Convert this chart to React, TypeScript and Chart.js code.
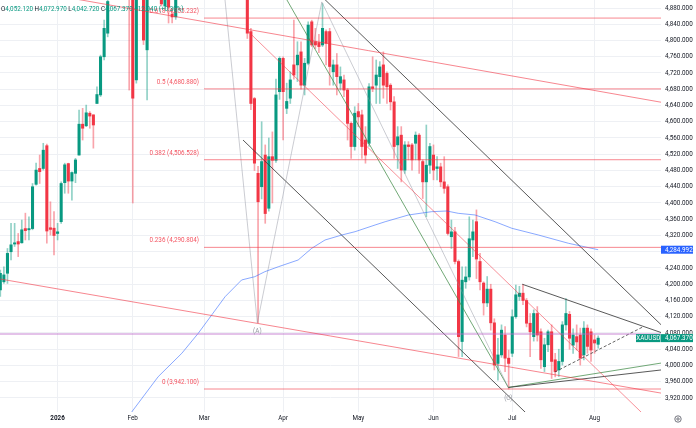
import { useEffect, useRef } from 'react';
import { Chart, registerables } from 'chart.js';

Chart.register(...registerables);

// daily bars, index 0 = mid Dec 2025, last bar = early Aug 2026
const opens = [
  4186, 4206, 4227, 4280, 4299, 4305, 4302, 4337, 4334, 4337, 4446, 4485, 4485, 4541, 4339, 4338, 4325, 4354, 4450, 4497,
  4454, 4473, 4518, 4594, 4590, 4621, 4617, 4645, 4666, 4760, 4818, 4905, 4975, 5080, 5170, 5320, 5150, 4920, 4703, 4960,
  5040, 4777, 4960, 5030, 4980, 5050, 4885, 4960, 4865, 4858, 4940, 4995, 5040, 5090, 5040, 5010, 5050, 5120, 5100, 5030,
  5060, 5090, 5130, 5070, 5020, 4990, 5010, 4960, 4940, 4925, 4822, 4657, 4473, 4440, 4518, 4387, 4514, 4505, 4674, 4756,
  4633, 4658, 4740, 4740, 4772, 4690, 4744, 4846, 4797, 4795, 4789, 4822, 4822, 4723, 4740, 4695, 4703, 4678, 4596, 4539,
  4625, 4617, 4555, 4547, 4686, 4690, 4711, 4740, 4719, 4690, 4649, 4543, 4567, 4481, 4543, 4543, 4547, 4567, 4502, 4452,
  4493, 4518, 4485, 4489, 4452, 4440, 4317, 4329, 4256, 4059, 4206, 4218, 4309, 4354, 4256, 4203, 4154, 4188, 4105, 4005,
  4026, 4075, 4018, 4030, 4120, 4170, 4178, 4160, 4104, 4071, 4128, 4083, 3997, 4051, 4083, 4014, 3989, 4010, 4100, 4126,
  4050, 4071, 4075, 4026, 4092, 4083, 4063, 4052.12,
];
const highs = [
  4235, 4243, 4288, 4350, 4350, 4325, 4358, 4375, 4366, 4448, 4498, 4518, 4547, 4545, 4403, 4379, 4350, 4452, 4498, 4498,
  4477, 4510, 4629, 4633, 4641, 4625, 4617, 4686, 4764, 4850, 4910, 4985, 5090, 5190, 5380, 5450, 5200, 4950, 5000, 5080,
  5060, 4990, 5060, 5090, 5070, 5060, 4990, 4975, 4878, 4960, 5010, 5060, 5110, 5120, 5080, 5060, 5140, 5180, 5130, 5070,
  5110, 5150, 5160, 5090, 5050, 5040, 5030, 4990, 4960, 4940, 4830, 4660, 4490, 4600, 4543, 4560, 4575, 4705, 4760, 4760,
  4695, 4723, 4850, 4797, 4797, 4756, 4846, 4850, 4830, 4815, 4891, 4826, 4830, 4752, 4768, 4735, 4715, 4682, 4600, 4637,
  4645, 4629, 4588, 4694, 4760, 4752, 4748, 4772, 4723, 4694, 4662, 4588, 4588, 4551, 4551, 4547, 4575, 4571, 4506, 4592,
  4547, 4543, 4514, 4498, 4514, 4445, 4358, 4340, 4260, 4243, 4243, 4366, 4358, 4383, 4276, 4206, 4219, 4200, 4115, 4067,
  4100, 4096, 4038, 4137, 4198, 4195, 4200, 4165, 4128, 4137, 4145, 4090, 4067, 4087, 4100, 4030, 4040, 4108, 4165, 4133,
  4090, 4100, 4092, 4108, 4100, 4090, 4075, 4072.97,
];
const lows = [
  4170, 4202, 4202, 4260, 4293, 4268, 4301, 4309, 4309, 4334, 4444, 4448, 4481, 4301, 4321, 4272, 4309, 4350, 4424, 4424,
  4407, 4450, 4518, 4555, 4588, 4584, 4535, 4645, 4662, 4752, 4809, 4902, 4960, 5050, 5150, 5100, 4678, 4400, 4695, 4930,
  4790, 4654, 4940, 4950, 4960, 4885, 4878, 4843, 4843, 4852, 4925, 4970, 5010, 5020, 4990, 4960, 5030, 5080, 5020, 4980,
  5040, 5070, 5050, 5000, 4960, 4950, 4940, 4920, 4915, 4805, 4630, 4480, 4105, 4410, 4350, 4380, 4400, 4500, 4655, 4555,
  4620, 4645, 4705, 4699, 4680, 4666, 4740, 4785, 4780, 4770, 4785, 4740, 4690, 4690, 4666, 4678, 4662, 4555, 4510, 4530,
  4588, 4510, 4498, 4539, 4674, 4645, 4645, 4658, 4645, 4629, 4510, 4485, 4452, 4473, 4506, 4481, 4506, 4473, 4411, 4366,
  4473, 4457, 4457, 4440, 4424, 4321, 4288, 4250, 4022, 4022, 4190, 4210, 4268, 4214, 4186, 4124, 4145, 4087, 3989, 3964,
  4020, 3985, 3942.1, 4022, 4116, 4160, 4150, 4095, 4022, 4060, 4060, 3993, 3985, 4034, 3968, 3972, 3973, 4001, 4087, 4040,
  4030, 4038, 4001, 4014, 4030, 4010, 4030, 4042.72,
];
const closes = [
  4227, 4223, 4276, 4297, 4302, 4299, 4334, 4332, 4337, 4440, 4481, 4477, 4530, 4331, 4335, 4320, 4329, 4448, 4494, 4454,
  4475, 4506, 4594, 4584, 4622, 4614, 4592, 4667, 4760, 4830, 4896, 4975, 5080, 5170, 5320, 5150, 4920, 4658, 4960, 5040,
  4801, 4960, 5030, 4980, 5050, 4890, 4960, 4882, 4858, 4940, 4995, 5040, 5090, 5040, 5010, 5050, 5120, 5100, 5030, 5060,
  5090, 5130, 5070, 5020, 4990, 5010, 4960, 4940, 4925, 4818, 4645, 4498, 4403, 4502, 4374, 4514, 4505, 4666, 4756, 4674,
  4650, 4703, 4715, 4764, 4690, 4744, 4838, 4789, 4789, 4785, 4830, 4793, 4736, 4740, 4711, 4711, 4678, 4596, 4539, 4621,
  4612, 4539, 4518, 4686, 4682, 4715, 4735, 4690, 4686, 4649, 4539, 4563, 4481, 4543, 4539, 4506, 4567, 4506, 4452, 4493,
  4539, 4481, 4489, 4452, 4436, 4325, 4329, 4256, 4071, 4210, 4218, 4312, 4329, 4262, 4206, 4154, 4188, 4105, 4001, 4026,
  4087, 4018, 4005, 4120, 4174, 4178, 4160, 4104, 4083, 4128, 4075, 4014, 4051, 4083, 4010, 3985, 4010, 4100, 4128, 4067,
  4075, 4058, 4018, 4092, 4047, 4038, 4055.33, 4067.37,
];

// moving average, read at [bar index, price]
const maIdx = [36.7, 44.1, 50.7, 55.3, 59.05, 62.8, 67.4, 71.1, 73.9, 77.7, 83.2, 87, 90.7, 95.4, 99.1, 104.7, 107.5, 114, 120.5, 124.7, 127.9, 132.6, 138.2, 142.9, 150.3, 158.7, 167];
const maVals = [3885.5, 3972.4, 4030, 4079.3, 4124.3, 4169.4, 4210.5, 4218.6, 4230.9, 4243.2, 4259.7, 4288.5, 4308.9, 4321.2, 4329.4, 4345.9, 4353.9, 4370.5, 4378.6, 4380.3, 4374.6, 4370.5, 4353.9, 4337.7, 4321.2, 4300.8, 4284.992];

// fibonacci retracement
const fibLevels = [0, 0.236, 0.382, 0.5, 0.618];
const fibPrices = [3942.1, 4290.804, 4506.528, 4680.88, 4855.232];
const fibFrom = 56.9;

// drawings: [bar index, price] anchors
const upperFan = [[-0.1, 4935], [184.6, 4648]];
const lowerFan = [[-0.1, 4213], [184.6, 3932]];
const steepRed = [[68.8, 4826], [184.3, 3840]];
const channelTop = [[89.6, 4910], [184.6, 4100]];
const channelBottom = [[67.8, 4555], [147.1, 3881]];
const greenRay = [[79.4, 4910], [141.9, 3946]];
const zigzag = [[62.65, 4910], [71.8, 4105], [89.8, 4895], [141.9, 3946]];
const triTop = [[145.8, 4200], [184.6, 4081]];
const triBase = [[141.9, 3946], [184.6, 3989]];
const triGreen = [[141.9, 3946], [184.6, 4006]];
const dashedRay = [[154.9, 3984], [179.5, 4095]];
const purpleLevel = [[-0.1, 4077.5], [184.6, 4077.5]];

const monthIdx = [16, 37, 57, 79, 100, 121, 143, 166];
const monthLabels = ['2026', 'Feb', 'Mar', 'Apr', 'May', 'Jun', 'Jul', 'Aug'];
const yTicks = [3920, 3960, 4000, 4040, 4080, 4120, 4160, 4200, 4240, 4280, 4320, 4360, 4400, 4440, 4480, 4520, 4560, 4600, 4640, 4680, 4720, 4760, 4800, 4840, 4880];

const UP = '#089981';
const DOWN = '#f23645';
const FIB = 'rgba(242,54,69,0.6)';
const FONT = 'Roboto';
const fmt = (v: number) => v.toLocaleString('en-US', { minimumFractionDigits: 3, maximumFractionDigits: 3 });

const seg = (pts: number[][], color: string, extra: any = {}) => ({
  type: 'line' as const,
  data: pts.map(([x, y]) => ({ x, y })),
  borderColor: color,
  borderWidth: 1,
  pointRadius: 0,
  clip: 0,
  order: 1,
  ...extra,
});

const overlay = {
  id: 'overlay',
  afterDatasetsDraw(chart: any) {
    const { ctx, scales } = chart;
    const { x, y } = scales;
    ctx.save();
    ctx.font = `6.3px ${FONT}`;
    ctx.textBaseline = 'middle';
    ctx.textAlign = 'right';
    ctx.fillStyle = 'rgba(242,54,69,0.85)';
    fibLevels.forEach((lv, i) => {
      ctx.fillText(`${lv} (${fmt(fibPrices[i])})`, x.getPixelForValue(fibFrom) - 5, y.getPixelForValue(fibPrices[i]) - 6.5);
    });
    ctx.textAlign = 'center';
    ctx.fillStyle = '#9598a1';
    ctx.fillText('(A)', x.getPixelForValue(zigzag[1][0]), y.getPixelForValue(zigzag[1][1]) + 9);
    ctx.fillText('(C)', x.getPixelForValue(zigzag[3][0]), y.getPixelForValue(zigzag[3][1]) + 11);
    ctx.restore();
  },
  afterDraw(chart: any) {
    const { ctx, scales, chartArea } = chart;
    const { y } = scales;
    const n = closes.length - 1;
    ctx.save();
    ctx.font = `6.3px ${FONT}`;
    ctx.textBaseline = 'middle';
    ctx.textAlign = 'left';
    // OHLC header
    const chg = closes[n] - closes[n - 1];
    const parts: [string, string][] = [
      ['O', '#131722'], [fmt(opens[n]), UP], [' H', '#131722'], [fmt(highs[n]), UP],
      [' L', '#131722'], [fmt(lows[n]), UP], [' C', '#131722'], [fmt(closes[n]), UP],
      [` +${fmt(chg)} (+${((chg / closes[n - 1]) * 100).toFixed(2)}%)`, UP],
    ];
    let hx = 1;
    parts.forEach(([t, c]) => {
      ctx.fillStyle = c;
      ctx.fillText(t, hx, 9.5);
      hx += ctx.measureText(t).width;
    });
    // price boxes on the axis
    const box = (val: number, color: string) => {
      const py = y.getPixelForValue(val);
      ctx.fillStyle = color;
      ctx.fillRect(chartArea.right, py - 4, 32, 8);
      ctx.fillStyle = '#ffffff';
      ctx.fillText(fmt(val), chartArea.right + 4, py + 0.3);
      return py;
    };
    box(maVals[maVals.length - 1], '#2962ff');
    const py = box(closes[n], UP);
    ctx.fillStyle = UP;
    ctx.fillRect(chartArea.right - 25, py - 4, 24.5, 8);
    ctx.fillStyle = '#ffffff';
    ctx.textAlign = 'center';
    ctx.fillText('XAUUSD', chartArea.right - 12.7, py + 0.3);
    // settings icon
    ctx.strokeStyle = '#50535e';
    ctx.lineWidth = 0.8;
    ctx.beginPath();
    ctx.arc(678, 419, 3.2, 0, Math.PI * 2);
    ctx.stroke();
    ctx.beginPath();
    ctx.arc(678, 419, 1.2, 0, Math.PI * 2);
    ctx.stroke();
    ctx.restore();
  },
};

export default function App() {
  const canvasRef = useRef<HTMLCanvasElement>(null);

  useEffect(() => {
    document.body.style.margin = '0';
    if (!canvasRef.current) return;

    const bars = opens.map((o, i) => i);
    const isUp = (i: number) => closes[i] >= opens[i];

    const chart = new Chart(canvasRef.current, {
      type: 'bar',
      data: {
        datasets: [
          seg(upperFan, 'rgba(242,54,69,0.6)'),
          seg(lowerFan, 'rgba(242,54,69,0.6)'),
          seg(steepRed, 'rgba(242,54,69,0.55)'),
          ...fibPrices.map((p) => seg([[fibFrom, p], [184.6, p]], FIB)),
          seg(purpleLevel, 'rgba(186,104,200,0.8)'),
          seg(maIdx.map((v, i) => [v, maVals[i]]), 'rgba(41,98,255,0.55)'),
          seg(zigzag, 'rgba(140,143,155,0.45)'),
          seg(greenRay, 'rgba(67,140,74,0.75)'),
          seg(channelTop, 'rgba(60,60,60,0.85)'),
          seg(channelBottom, 'rgba(60,60,60,0.85)'),
          seg(triTop, 'rgba(60,60,60,0.85)'),
          seg(triBase, 'rgba(60,60,60,0.85)'),
          seg(triGreen, 'rgba(67,140,74,0.75)'),
          seg(dashedRay, 'rgba(60,60,60,0.8)', { borderDash: [3, 2] }),
          {
            type: 'bar' as const,
            data: bars.map((i) => ({ x: i, y: [opens[i], closes[i]] })) as any,
            backgroundColor: bars.map((i) => (isUp(i) ? UP : DOWN)),
            barThickness: 2.4,
            minBarLength: 1,
            grouped: false,
            clip: 0,
            order: 2,
          },
          {
            type: 'bar' as const,
            data: bars.map((i) => ({ x: i, y: [lows[i], highs[i]] })) as any,
            backgroundColor: bars.map((i) => (isUp(i) ? 'rgba(8,153,129,0.45)' : 'rgba(242,54,69,0.45)')),
            barThickness: 1,
            grouped: false,
            clip: 0,
            order: 3,
          },
        ] as any,
      },
      options: {
        responsive: false,
        animation: false,
        events: [],
        layout: { padding: 0 },
        plugins: { legend: { display: false }, tooltip: { enabled: false } },
        scales: {
          x: {
            type: 'linear',
            min: -0.084,
            max: 184.55,
            offset: false,
            grid: { color: '#eef0f4', offset: false, drawTicks: false },
            border: { display: false },
            afterBuildTicks: (s: any) => {
              s.ticks = monthIdx.map((v) => ({ value: v }));
            },
            afterFit: (s: any) => {
              s.height = 16;
              s.paddingLeft = 0;
              s.paddingRight = 0;
            },
            ticks: {
              autoSkip: false,
              maxRotation: 0,
              padding: 3,
              color: '#131722',
              font: (c: any) => ({ family: FONT, size: 6.3, weight: c.tick && c.tick.value === monthIdx[0] ? 'bold' : 'normal' }),
              callback: (v: any) => monthLabels[monthIdx.indexOf(Number(v))],
            },
          },
          y: {
            type: 'linear',
            position: 'right',
            min: 3885.5,
            max: 4899.7,
            grid: { color: '#eef0f4', drawTicks: false },
            border: { display: false },
            afterBuildTicks: (s: any) => {
              s.ticks = yTicks.map((v) => ({ value: v }));
            },
            afterFit: (s: any) => {
              s.width = 35;
              s.paddingTop = 0;
              s.paddingBottom = 0;
            },
            ticks: {
              padding: 4,
              color: '#131722',
              font: { family: FONT, size: 6.3 },
              callback: (v: any) => fmt(Number(v)),
            },
          },
        },
      } as any,
      plugins: [overlay],
    });

    return () => chart.destroy();
  }, []);

  return (
    <div style={{ width: 696, height: 428, background: '#ffffff' }}>
      <canvas ref={canvasRef} width={696} height={428} style={{ display: 'block' }} />
    </div>
  );
}
